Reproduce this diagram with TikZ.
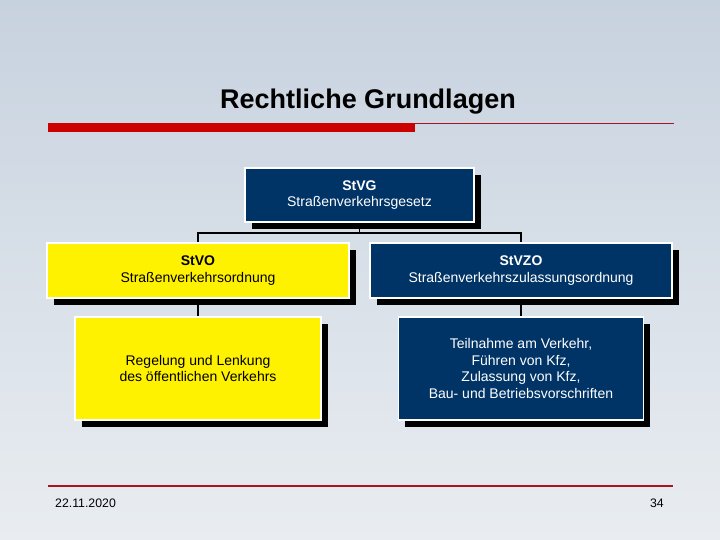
\documentclass[tikz,border=0pt]{standalone}
\usepackage{fontspec}
\setmainfont{Liberation Sans}
\usetikzlibrary{shadows,backgrounds}
\definecolor{navy}{RGB}{0,51,102}
\definecolor{bgtop}{RGB}{199,210,223}
\definecolor{bgbot}{RGB}{233,237,241}
\definecolor{barred}{RGB}{204,0,0}
\definecolor{linered}{RGB}{170,20,30}
\begin{document}
\begin{tikzpicture}[x=1pt,y=-1pt,
  boxbase/.style={draw=white, line width=1.8pt, align=center, inner sep=0pt,
    font=\fontsize{14}{16.8}\selectfont,
    drop shadow={shadow xshift=6.5pt, shadow yshift=-7pt, opacity=1, fill=black}},
  navybox/.style={boxbase, fill=navy, text=white},
  yellowbox/.style={boxbase, fill=yellow, text=black},
  conn/.style={draw=black, line width=1.8pt}]
\useasboundingbox (0,0) rectangle (720,540);
\begin{scope}[on background layer]
  \shade[top color=bgtop, bottom color=bgbot] (0,0) rectangle (720,540);
\end{scope}

% title
\node[anchor=base, font=\fontsize{27}{30}\selectfont\bfseries] (title) at (368,109) {Rechtliche Grundlagen};
\fill[barred] (48,123) rectangle (415,132);
\draw[linered, line width=0.9pt] (415,123.5) -- (674,123.5);

% boxes
\node[navybox, minimum width=229pt, minimum height=54pt] (stvg) at (359.5,195) {\textbf{StVG}\\Straßenverkehrsgesetz};
\node[yellowbox, minimum width=302pt, minimum height=55pt] (stvo) at (198,270.5) {\textbf{StVO}\\Straßenverkehrsordnung};
\node[navybox, minimum width=302pt, minimum height=55pt] (stvzo) at (521,270.5) {\textbf{StVZO}\\Straßenverkehrszulassungsordnung};
\node[yellowbox, minimum width=246pt, minimum height=103pt] (regel) at (198,368.5) {Regelung und Lenkung\\des öffentlichen Verkehrs};
\node[navybox, minimum width=245pt, minimum height=103pt] (teil) at (521,368.5) {Teilnahme am Verkehr,\\Führen von Kfz,\\Zulassung von Kfz,\\Bau- und Betriebsvorschriften};

% connectors
\coordinate (jl) at (198,233);
\coordinate (jr) at (521,233);
\begin{scope}[on background layer]
  \draw[conn] (stvg.south) -- (stvg.south |- jl);
  \draw[conn] (stvo.north) -- (jl) -- (jr) -- (stvzo.north);
  \draw[conn] (stvo.south) -- (regel.north);
  \draw[conn] (stvzo.south) -- (teil.north);
\end{scope}

% footer
\draw[linered, line width=1.2pt] (48,486) -- (673,486);
\node[anchor=base west, inner sep=0pt, font=\fontsize{12.3}{14}\selectfont] (date) at (55,507.5) {22.11.2020};
\node[anchor=base east, inner sep=0pt, font=\fontsize{12.3}{14}\selectfont] (page) at (664,507.5) {34};
\end{tikzpicture}
\end{document}
